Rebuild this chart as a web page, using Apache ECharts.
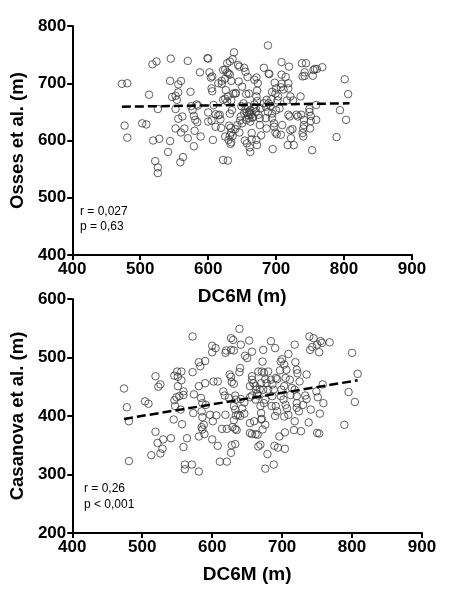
<!DOCTYPE html>
<html><head><meta charset="utf-8">
<script src="https://cdn.jsdelivr.net/npm/echarts@6/dist/echarts.min.js"></script>
<style>html,body{margin:0;padding:0;background:#fff}#c{width:472px;height:596px}</style>
</head><body><div id="c"></div>
<script>
const xTicks = [400, 500, 600, 700, 800, 900];
const ossesTicks = [400, 500, 600, 700, 800];
const casanovaTicks = [200, 300, 400, 500, 600];
const xName = 'DC6M (m)';
const ossesName = 'Osses et al. (m)';
const casanovaName = 'Casanova et al. (m)';
const ossesStats = ['r = 0,027', 'p = 0,63'];
const casanovaStats = ['r = 0,26', 'p < 0,001'];
const ossesFit = [[473, 659], [808, 665]];
const casanovaFit = [[474, 395], [808, 461]];

const ossesPoints = [
[473,699],[481,700],[477,626],[481,605],[513,680],[503,630],[509,628],[518,733],[524,738],[519,600],
[528,603],[526,655],[522,564],[526,553],[526,543],[545,743],[544,704],[544,599],[541,580],[560,704],
[556,698],[547,676],[552,678],[556,684],[554,671],[552,655],[556,638],[562,642],[552,621],[560,614],
[565,621],[559,562],[563,571],[570,739],[574,685],[575,660],[577,653],[570,604],[579,590],[580,617],
[588,719],[579,643],[581,636],[584,632],[583,663],[585,661],[589,607],[599,744],[600,743],[602,719],
[604,710],[606,712],[605,691],[606,686],[600,649],[600,633],[605,635],[608,662],[607,601],[611,646],
[615,644],[611,624],[618,637],[619,622],[617,645],[615,700],[620,704],[620,699],[622,723],[625,724],
[628,735],[632,738],[636,742],[638,754],[628,719],[630,717],[632,715],[625,708],[634,704],[626,688],
[622,671],[625,673],[628,668],[629,677],[634,670],[637,682],[640,682],[641,683],[635,653],[632,647],
[622,566],[629,565],[631,626],[633,622],[632,609],[630,601],[633,594],[634,597],[636,608],[634,614],
[625,607],[644,732],[646,729],[645,703],[650,694],[643,627],[640,620],[646,614],[648,642],[649,660],
[652,665],[653,727],[655,720],[658,711],[654,600],[657,595],[656,681],[660,682],[657,649],[659,644],
[662,653],[661,647],[660,639],[662,633],[661,588],[662,580],[664,613],[664,602],[666,641],[668,663],
[668,706],[671,710],[673,700],[672,687],[671,677],[672,669],[670,656],[671,601],[672,592],[674,645],
[676,639],[676,627],[677,656],[678,609],[682,727],[689,717],[690,716],[688,766],[686,671],[689,665],
[682,665],[685,659],[688,650],[685,639],[686,621],[694,685],[693,672],[692,660],[694,647],[694,639],
[697,630],[695,585],[698,701],[700,691],[699,682],[703,677],[702,670],[700,653],[697,624],[699,614],
[701,611],[707,610],[708,737],[708,715],[714,711],[708,699],[707,693],[711,689],[709,627],[705,656],
[719,729],[718,700],[718,691],[716,670],[721,677],[720,642],[718,645],[717,592],[722,604],[721,618],
[725,670],[724,620],[726,592],[730,645],[732,642],[736,677],[737,645],[738,735],[744,735],[742,719],
[739,712],[742,713],[741,636],[739,613],[740,607],[740,621],[741,627],[749,650],[749,655],[754,713],
[755,723],[757,725],[760,725],[768,728],[751,643],[751,634],[750,621],[759,662],[759,636],[753,583],
[789,606],[794,653],[801,707],[806,681],[803,636],
[655,655],[658,660],[660,650],[663,645],[665,640],[667,658],[670,650],[653,648],[656,636],[650,630],[647,635]
];

const casanovaPoints = [
[474,447],[478,415],[481,391],[481,323],[504,425],[509,421],[513,333],[519,468],[519,373],[522,354],
[523,450],[526,454],[526,336],[529,344],[530,360],[541,362],[545,394],[546,469],[546,427],[547,417],
[550,476],[551,467],[551,451],[549,432],[553,434],[556,476],[556,461],[559,442],[559,436],[555,411],
[557,386],[559,347],[561,317],[561,309],[564,362],[572,536],[572,475],[574,437],[573,405],[571,317],
[581,492],[581,451],[583,485],[581,305],[584,431],[586,422],[585,408],[586,398],[585,381],[586,377],
[588,385],[581,365],[589,369],[590,494],[590,456],[591,419],[600,509],[600,520],[605,516],[602,459],
[608,459],[597,402],[601,391],[600,360],[608,349],[611,322],[621,322],[606,401],[614,378],[619,402],
[621,378],[616,442],[618,435],[620,512],[619,508],[627,513],[627,533],[630,530],[631,512],[641,522],
[639,549],[653,529],[647,503],[650,499],[657,510],[625,471],[627,467],[628,458],[631,455],[624,431],
[633,435],[634,428],[631,417],[633,411],[634,401],[637,402],[640,400],[631,393],[629,381],[633,378],
[635,376],[633,352],[628,350],[627,337],[640,482],[639,475],[641,429],[646,423],[643,413],[646,404],
[654,451],[654,388],[654,371],[657,369],[660,391],[662,369],[665,368],[657,468],[657,462],[659,456],
[662,451],[663,445],[664,438],[657,435],[654,432],[662,428],[666,435],[668,446],[670,456],[666,476],
[671,476],[673,513],[672,493],[674,474],[676,463],[678,456],[673,445],[676,428],[674,422],[669,417],
[670,405],[670,394],[671,395],[672,377],[676,385],[669,351],[666,348],[676,310],[679,335],[684,528],
[690,516],[680,476],[684,462],[686,454],[680,445],[688,445],[691,465],[693,463],[686,434],[685,417],
[691,417],[693,408],[690,400],[689,349],[694,346],[688,317],[697,478],[698,493],[700,497],[703,488],
[709,506],[706,479],[705,465],[703,451],[699,445],[698,434],[702,428],[705,419],[707,413],[703,399],
[696,365],[704,372],[704,344],[709,402],[712,436],[714,448],[711,462],[719,492],[721,479],[722,473],
[725,459],[718,522],[718,445],[721,434],[721,422],[721,414],[724,408],[718,391],[717,376],[727,374],
[730,419],[733,435],[735,429],[735,471],[738,389],[741,411],[739,536],[745,533],[740,513],[743,518],
[750,522],[755,528],[757,525],[768,526],[753,509],[749,442],[751,432],[750,371],[753,370],[758,454],
[759,422],[754,404],[789,385],[795,441],[800,508],[808,472],[804,424]
];

const chart = echarts.init(document.getElementById('c'), null, {renderer: 'canvas'});
const FONT = 'Liberation Sans, Arial, sans-serif';
const axisLine = {show: true, lineStyle: {color: '#000', width: 2}};
const axisTick = {show: true, length: 5, inside: false, lineStyle: {color: '#000', width: 2}};
function xAxis(gridIndex) {
  return {
    type: 'value', gridIndex, min: xTicks[0], max: xTicks[xTicks.length - 1], interval: 100,
    name: xName, nameLocation: 'middle', nameGap: 32,
    nameTextStyle: {fontFamily: FONT, fontWeight: 'bold', fontSize: 19, color: '#000'},
    axisLine, axisTick, splitLine: {show: false},
    axisLabel: {fontFamily: FONT, fontWeight: 'bold', fontSize: 17, color: '#000', margin: 6}
  };
}
function yAxis(gridIndex, ticks, name) {
  return {
    type: 'value', gridIndex, min: ticks[0], max: ticks[ticks.length - 1], interval: 100,
    name, nameLocation: 'middle', nameGap: 38,
    nameTextStyle: {fontFamily: FONT, fontWeight: 'bold', fontSize: 18.5, color: '#000'},
    axisLine, axisTick, splitLine: {show: false},
    axisLabel: {fontFamily: FONT, fontWeight: 'bold', fontSize: 17, color: '#000', margin: 6}
  };
}
const scatterStyle = {
  type: 'scatter', symbol: 'circle', symbolSize: 7.5,
  itemStyle: {color: 'rgba(255,255,255,0)', borderColor: '#3a3a3a', borderWidth: 1}
};
const fitStyle = {
  type: 'line', symbol: 'none', silent: true, z: 5,
  lineStyle: {color: '#000', width: 2.5, type: [9, 4]}
};
chart.setOption({
  animation: false,
  backgroundColor: '#fff',
  grid: [
    {left: 69, top: 26, right: 60, bottom: 341},
    {left: 69, top: 299, right: 50, bottom: 63}
  ],
  xAxis: [xAxis(0), xAxis(1)],
  yAxis: [yAxis(0, ossesTicks, ossesName), yAxis(1, casanovaTicks, casanovaName)],
  series: [
    Object.assign({}, scatterStyle, {xAxisIndex: 0, yAxisIndex: 0, data: ossesPoints}),
    Object.assign({}, fitStyle, {xAxisIndex: 0, yAxisIndex: 0, data: ossesFit}),
    Object.assign({}, scatterStyle, {xAxisIndex: 1, yAxisIndex: 1, data: casanovaPoints}),
    Object.assign({}, fitStyle, {xAxisIndex: 1, yAxisIndex: 1, data: casanovaFit})
  ],
  graphic: [
    {type: 'text', left: 80, top: 204, style: {text: ossesStats.join('\n'), font: '12px ' + FONT, fill: '#000', lineHeight: 15}},
    {type: 'text', left: 84, top: 481, style: {text: casanovaStats.join('\n'), font: '12px ' + FONT, fill: '#000', lineHeight: 16}}
  ]
});
</script></body></html>
